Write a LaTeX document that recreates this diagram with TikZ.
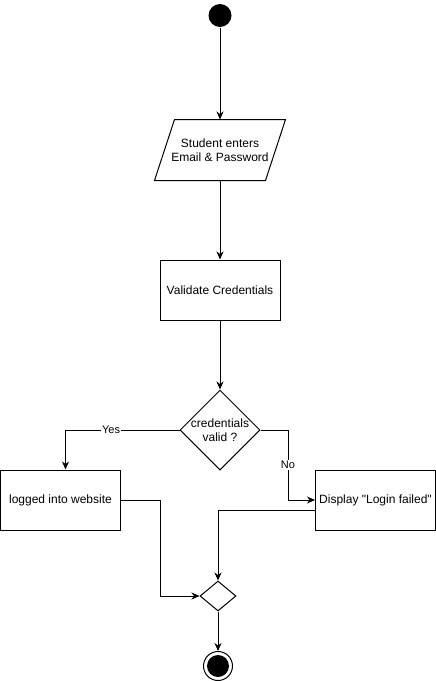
\documentclass[tikz,border=0pt]{standalone}
\usepackage{fontspec}
\setmainfont{Liberation Sans}
\usetikzlibrary{arrows.meta,shapes.geometric,calc}
\begin{document}
\begin{tikzpicture}[x=1pt,y=-1pt,line width=1pt,
  every node/.style={font=\fontsize{12}{14.4}\selectfont},
  box/.style={draw,minimum width=120,minimum height=60,inner sep=0,align=center},
  arr/.style={-{Stealth[length=8pt,width=7pt,inset=2.5pt]}},
  lbl/.style={fill=white,inner sep=1pt,font=\fontsize{11}{13}\selectfont}]
\useasboundingbox (0,0) rectangle (436,681);
% start
\node[circle,fill=black,minimum size=23,inner sep=0] (start) at (220,15.5) {};
% input parallelogram
\node[minimum width=110,minimum height=60,inner sep=0,align=center] (input) at (220,150) {Student enters\\Email \& Password};
\draw ($(input.north west)+(10,0)$) -- ($(input.north east)+(10,0)$) -- ($(input.south east)+(-10,0)$) -- ($(input.south west)+(-10,0)$) -- cycle;
% validate
\node[box] (val) at (220,290) {Validate Credentials};
% decision
\node[diamond,draw,minimum width=80,minimum height=80,inner sep=0] (dec) at (220,430) {};
\node[align=center,inner sep=0] (dectxt) at (dec.center) {credentials\\valid ?};
% outcomes
\node[box] (logged) at (60.5,500) {logged into website};
\node[box] (disp) at (375.5,500) {Display \textquotedbl Login failed\textquotedbl};
% merge
\node[diamond,draw,minimum width=36,minimum height=30,inner sep=0] (merge) at (218,596) {};
% end
\node[circle,draw,minimum size=29,inner sep=0] (end) at (218,666) {};
\node[circle,fill=black,minimum size=22,inner sep=0] (endin) at (end.center) {};
% connectors
\draw[arr] (start) -- (input.north);
\draw[arr] (input.south) -- (val.north);
\draw[arr] (val.south) -- (dec.north);
\draw[arr] (dec.west) -| node[lbl,pos=0.3]{Yes} ([xshift=5pt]logged.north);
\coordinate (nocorner) at (288,430);
\draw[arr] (dec.east) -- (nocorner) |- node[lbl,pos=0.25]{No} (disp.west);
\coordinate (lcorner) at (160,500);
\draw[arr] (logged.east) -- (lcorner) |- (merge.west);
\draw[arr] ([yshift=-10pt]disp.west) -| (merge.north);
\draw[arr] (merge.south) -- (end.north);
\end{tikzpicture}
\end{document}
